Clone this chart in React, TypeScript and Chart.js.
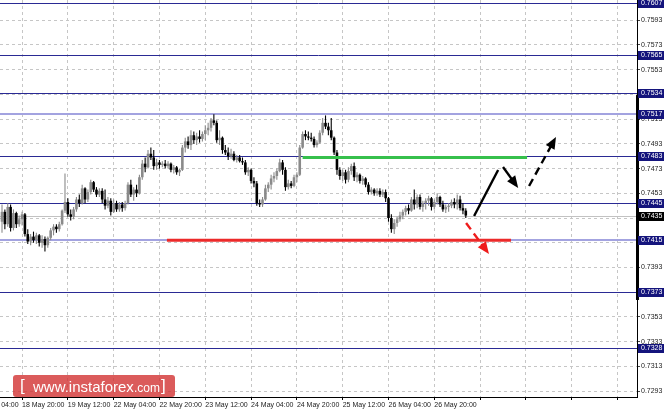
import React, { useEffect, useRef } from "react";
import { Chart, registerables } from "chart.js";

Chart.register(...registerables);

// ---- H1 candles (bar index 0 = first visible bar) ----
const opens = [
  0.7430, 0.7438, 0.7428, 0.7442, 0.7425, 0.7437, 0.7428, 0.7432, 0.7436, 0.7420,
  0.7414, 0.7418, 0.7415, 0.7419, 0.7413, 0.7416, 0.7411, 0.7417, 0.7423, 0.7426,
  0.7424, 0.7428, 0.7439, 0.7446, 0.7436, 0.7434, 0.7440, 0.7448, 0.7445, 0.7457,
  0.7448, 0.7454, 0.7462, 0.7456, 0.7452, 0.7455, 0.7448, 0.7443, 0.7447, 0.7438,
  0.7445, 0.7440, 0.7444, 0.7441, 0.7445, 0.7460, 0.7452, 0.7456, 0.7453, 0.7466,
  0.7477, 0.7474, 0.7485, 0.7482, 0.7475, 0.7478, 0.7476, 0.7477, 0.7475, 0.7477,
  0.7472, 0.7474, 0.7470, 0.7472, 0.7490, 0.7495, 0.7492, 0.7500, 0.7496, 0.7499,
  0.7497, 0.7501, 0.7504, 0.7506, 0.7512, 0.7510, 0.7496, 0.7498, 0.7488, 0.7486,
  0.7483, 0.7485, 0.7480, 0.7482, 0.7479, 0.7478, 0.7470, 0.7472, 0.7463, 0.7461,
  0.7445, 0.7444, 0.7448, 0.7457, 0.7460, 0.7465, 0.7467, 0.7471, 0.7478, 0.7472,
  0.7458, 0.7461, 0.7459, 0.7466, 0.7468, 0.7490, 0.7501, 0.7499, 0.7498, 0.7497,
  0.7492, 0.7494, 0.7502, 0.7510, 0.7507, 0.7504, 0.7498, 0.7486, 0.7472, 0.7467,
  0.7470, 0.7464, 0.7471, 0.7475, 0.7466, 0.7468, 0.7463, 0.7465, 0.7460, 0.7454,
  0.7456, 0.7453, 0.7455, 0.7452, 0.7454, 0.7449, 0.7433, 0.7424, 0.7429, 0.7432,
  0.7435, 0.7438, 0.7441, 0.7439, 0.7448, 0.7444, 0.7450, 0.7442, 0.7445, 0.7447,
  0.7449, 0.7442, 0.7446, 0.7450, 0.7444, 0.7440, 0.7442, 0.7443, 0.7446, 0.7444,
  0.7448, 0.7441, 0.7439,
];
const highs = [
  0.7444, 0.7440, 0.7445, 0.7444, 0.7440, 0.7438, 0.7435, 0.7438, 0.7437, 0.7424,
  0.7420, 0.7422, 0.7421, 0.7420, 0.7419, 0.7418, 0.7418, 0.7425, 0.7428, 0.7428,
  0.7430, 0.7440, 0.7469, 0.7449, 0.7440, 0.7442, 0.7450, 0.7452, 0.7460, 0.7458,
  0.7456, 0.7464, 0.7463, 0.7458, 0.7457, 0.7457, 0.7456, 0.7450, 0.7449, 0.7448,
  0.7447, 0.7446, 0.7446, 0.7447, 0.7462, 0.7464, 0.7458, 0.7460, 0.7468, 0.7480,
  0.7482, 0.7488, 0.7490, 0.7488, 0.7481, 0.7480, 0.7479, 0.7480, 0.7479, 0.7478,
  0.7476, 0.7475, 0.7473, 0.7492, 0.7498, 0.7499, 0.7504, 0.7503, 0.7502, 0.7504,
  0.7503, 0.7508, 0.7510, 0.7514, 0.7517, 0.7512, 0.7504, 0.7499, 0.7492, 0.7490,
  0.7489, 0.7487, 0.7484, 0.7484, 0.7482, 0.7480, 0.7474, 0.7473, 0.7466, 0.7463,
  0.7448, 0.7450, 0.7460, 0.7462, 0.7468, 0.7470, 0.7473, 0.7481, 0.7480, 0.7474,
  0.7464, 0.7463, 0.7468, 0.7470, 0.7492, 0.7503, 0.7504, 0.7503, 0.7502, 0.7499,
  0.7496, 0.7504, 0.7514, 0.7516, 0.7510, 0.7514, 0.7499, 0.7488, 0.7474, 0.7472,
  0.7472, 0.7474, 0.7477, 0.7478, 0.7470, 0.7469, 0.7467, 0.7466, 0.7462, 0.7458,
  0.7457, 0.7457, 0.7457, 0.7456, 0.7456, 0.7450, 0.7436, 0.7432, 0.7434, 0.7438,
  0.7440, 0.7443, 0.7444, 0.7450, 0.7456, 0.7452, 0.7452, 0.7447, 0.7449, 0.7451,
  0.7450, 0.7448, 0.7453, 0.7451, 0.7447, 0.7444, 0.7445, 0.7448, 0.7449, 0.7452,
  0.7451, 0.7445, 0.7441,
];
const lows = [
  0.7421, 0.7424, 0.7426, 0.7422, 0.7423, 0.7425, 0.7426, 0.7427, 0.7418, 0.7412,
  0.7411, 0.7413, 0.7412, 0.7410, 0.7409, 0.7406, 0.7409, 0.7415, 0.7419, 0.7421,
  0.7422, 0.7427, 0.7437, 0.7434, 0.7431, 0.7432, 0.7438, 0.7442, 0.7444, 0.7445,
  0.7446, 0.7452, 0.7454, 0.7450, 0.7450, 0.7445, 0.7440, 0.7441, 0.7435, 0.7437,
  0.7438, 0.7438, 0.7438, 0.7439, 0.7444, 0.7450, 0.7447, 0.7450, 0.7452, 0.7464,
  0.7470, 0.7473, 0.7480, 0.7472, 0.7472, 0.7473, 0.7474, 0.7473, 0.7473, 0.7470,
  0.7469, 0.7468, 0.7467, 0.7471, 0.7486, 0.7489, 0.7488, 0.7493, 0.7492, 0.7494,
  0.7495, 0.7496, 0.7500, 0.7503, 0.7508, 0.7494, 0.7492, 0.7485, 0.7484, 0.7480,
  0.7481, 0.7479, 0.7478, 0.7478, 0.7476, 0.7468, 0.7467, 0.7461, 0.7458, 0.7443,
  0.7442, 0.7442, 0.7447, 0.7454, 0.7456, 0.7462, 0.7464, 0.7470, 0.7468, 0.7455,
  0.7456, 0.7457, 0.7458, 0.7462, 0.7467, 0.7489, 0.7496, 0.7496, 0.7495, 0.7490,
  0.7490, 0.7493, 0.7500, 0.7505, 0.7500, 0.7496, 0.7484, 0.7468, 0.7464, 0.7463,
  0.7461, 0.7462, 0.7468, 0.7463, 0.7462, 0.7461, 0.7460, 0.7458, 0.7452, 0.7452,
  0.7451, 0.7451, 0.7450, 0.7450, 0.7446, 0.7430, 0.7421, 0.7420, 0.7426, 0.7430,
  0.7432, 0.7435, 0.7436, 0.7438, 0.7440, 0.7441, 0.7440, 0.7438, 0.7440, 0.7443,
  0.7439, 0.7440, 0.7444, 0.7442, 0.7438, 0.7437, 0.7438, 0.7441, 0.7441, 0.7440,
  0.7439, 0.7436, 0.7433,
];
const closes = [
  0.7438, 0.7428, 0.7442, 0.7425, 0.7437, 0.7428, 0.7432, 0.7436, 0.7420, 0.7414,
  0.7418, 0.7415, 0.7419, 0.7413, 0.7416, 0.7411, 0.7417, 0.7423, 0.7426, 0.7424,
  0.7428, 0.7439, 0.7446, 0.7436, 0.7434, 0.7440, 0.7448, 0.7445, 0.7457, 0.7448,
  0.7454, 0.7462, 0.7456, 0.7452, 0.7455, 0.7448, 0.7443, 0.7447, 0.7438, 0.7445,
  0.7440, 0.7444, 0.7441, 0.7445, 0.7460, 0.7452, 0.7456, 0.7453, 0.7466, 0.7477,
  0.7474, 0.7485, 0.7482, 0.7475, 0.7478, 0.7476, 0.7477, 0.7475, 0.7477, 0.7472,
  0.7474, 0.7470, 0.7472, 0.7490, 0.7495, 0.7492, 0.7500, 0.7496, 0.7499, 0.7497,
  0.7501, 0.7504, 0.7506, 0.7512, 0.7510, 0.7496, 0.7498, 0.7488, 0.7486, 0.7483,
  0.7485, 0.7480, 0.7482, 0.7479, 0.7478, 0.7470, 0.7472, 0.7463, 0.7461, 0.7445,
  0.7444, 0.7448, 0.7457, 0.7460, 0.7465, 0.7467, 0.7471, 0.7478, 0.7472, 0.7458,
  0.7461, 0.7459, 0.7466, 0.7468, 0.7490, 0.7501, 0.7499, 0.7498, 0.7497, 0.7492,
  0.7494, 0.7502, 0.7510, 0.7507, 0.7504, 0.7498, 0.7486, 0.7472, 0.7467, 0.7470,
  0.7464, 0.7471, 0.7475, 0.7466, 0.7468, 0.7463, 0.7465, 0.7460, 0.7454, 0.7456,
  0.7453, 0.7455, 0.7452, 0.7454, 0.7449, 0.7433, 0.7424, 0.7429, 0.7432, 0.7435,
  0.7438, 0.7441, 0.7439, 0.7448, 0.7444, 0.7450, 0.7442, 0.7445, 0.7447, 0.7449,
  0.7442, 0.7446, 0.7450, 0.7444, 0.7440, 0.7442, 0.7443, 0.7446, 0.7444, 0.7448,
  0.7441, 0.7439, 0.7435,
];

// ---- time axis labels (bar index where each label sits) ----
const timeLabelBars = [-9, 7, 23, 39, 55, 71, 87, 103, 119, 135, 151, 167, 183, 199, 215];
const timeLabels = [
  "18 May 04:00", "18 May 20:00", "19 May 12:00", "22 May 04:00", "22 May 20:00",
  "23 May 12:00", "24 May 04:00", "24 May 20:00", "25 May 12:00", "26 May 04:00",
  "26 May 20:00", "", "", "", "",
];

// ---- price axis ----
const priceTicks = [
  0.7293, 0.7313, 0.7333, 0.7353, 0.7373, 0.7393, 0.7413, 0.7433,
  0.7453, 0.7473, 0.7493, 0.7513, 0.7533, 0.7553, 0.7573, 0.7593,
];
const levelPrices = [0.7607, 0.7565, 0.7534, 0.7517, 0.7483, 0.7445, 0.7415, 0.7373, 0.7328];
const levelIsMajor = [false, false, false, true, false, false, true, false, false];
const lastPrice = 0.7435;
const axisRangeMarker = [0.75325, 0.73667];

// ---- drawn analysis objects (bar index, price) ----
const resistanceSegment = [105, 183.4, 0.7482];
const supportSegment = [57.6, 177.8, 0.7415];
const upMove = [[164.9, 0.74346], [173.3, 0.74719]];
const pullback = [[175.0, 0.74743], [180.3, 0.74573]];
const upContinuation = [[184.1, 0.74589], [193.5, 0.74986]];
const breakdown = [[162.1, 0.7429], [170.1, 0.74039]];

const FONT = "'Liberation Sans', Arial, sans-serif";
const BULL = "#8a8a8a";
const BEAR = "#000000";

function drawArrow(ctx: CanvasRenderingContext2D, x1: number, y1: number, x2: number, y2: number, color: string, dashed: boolean, head: boolean) {
  const ang = Math.atan2(y2 - y1, x2 - x1);
  const headLen = 12;
  const headHalf = 5;
  const ex = head ? x2 - Math.cos(ang) * (headLen - 2) : x2;
  const ey = head ? y2 - Math.sin(ang) * (headLen - 2) : y2;
  ctx.save();
  ctx.strokeStyle = color;
  ctx.fillStyle = color;
  ctx.lineWidth = 2.4;
  ctx.lineCap = "butt";
  ctx.setLineDash(dashed ? [8, 5] : []);
  ctx.beginPath();
  ctx.moveTo(x1, y1);
  ctx.lineTo(ex, ey);
  ctx.stroke();
  ctx.setLineDash([]);
  if (head) {
    const bx = x2 - Math.cos(ang) * headLen;
    const by = y2 - Math.sin(ang) * headLen;
    ctx.beginPath();
    ctx.moveTo(x2, y2);
    ctx.lineTo(bx + Math.sin(ang) * headHalf, by - Math.cos(ang) * headHalf);
    ctx.lineTo(bx - Math.sin(ang) * headHalf, by + Math.cos(ang) * headHalf);
    ctx.closePath();
    ctx.fill();
  }
  ctx.restore();
}

const overlayPlugin = {
  id: "overlay",
  beforeDatasetsDraw(chart: any) {
    const { ctx, chartArea: a, scales } = chart;
    const y = scales.y;
    ctx.save();
    ctx.beginPath();
    ctx.rect(a.left, a.top, a.right - a.left, a.bottom - a.top);
    ctx.clip();
    const yb = Math.round(y.getPixelForValue(lastPrice)) + 0.5;
    ctx.strokeStyle = "#c2c2c2";
    ctx.lineWidth = 1;
    ctx.beginPath();
    ctx.moveTo(a.left, yb);
    ctx.lineTo(a.right, yb);
    ctx.stroke();
    levelPrices.forEach((p, i) => {
      const major = levelIsMajor[i];
      const py = major ? Math.round(y.getPixelForValue(p)) : Math.round(y.getPixelForValue(p)) + 0.5;
      ctx.strokeStyle = major ? "#a3a3e0" : "#2a2a94";
      ctx.lineWidth = major ? 2 : 1;
      ctx.beginPath();
      ctx.moveTo(a.left, py);
      ctx.lineTo(a.right, py);
      ctx.stroke();
    });
    ctx.restore();
  },
  afterDatasetsDraw(chart: any) {
    const { ctx, chartArea: a, scales } = chart;
    const x = scales.x;
    const y = scales.y;
    ctx.save();
    ctx.beginPath();
    ctx.rect(a.left, a.top, a.right - a.left, a.bottom - a.top);
    ctx.clip();
    ctx.strokeStyle = "#36c04c";
    ctx.lineWidth = 3;
    let py = y.getPixelForValue(resistanceSegment[2]);
    ctx.beginPath();
    ctx.moveTo(x.getPixelForValue(resistanceSegment[0]), py);
    ctx.lineTo(x.getPixelForValue(resistanceSegment[1]), py);
    ctx.stroke();
    ctx.strokeStyle = "#ec2a2a";
    py = y.getPixelForValue(supportSegment[2]);
    ctx.beginPath();
    ctx.moveTo(x.getPixelForValue(supportSegment[0]), py);
    ctx.lineTo(x.getPixelForValue(supportSegment[1]), py);
    ctx.stroke();
    const pt = (p: number[]) => [x.getPixelForValue(p[0]), y.getPixelForValue(p[1])];
    let [ax, ay] = pt(upMove[0]);
    let [bx, by] = pt(upMove[1]);
    drawArrow(ctx, ax, ay, bx, by, "#000", false, false);
    [ax, ay] = pt(pullback[0]);
    [bx, by] = pt(pullback[1]);
    drawArrow(ctx, ax, ay, bx, by, "#000", false, true);
    [ax, ay] = pt(upContinuation[0]);
    [bx, by] = pt(upContinuation[1]);
    drawArrow(ctx, ax, ay, bx, by, "#000", true, true);
    [ax, ay] = pt(breakdown[0]);
    [bx, by] = pt(breakdown[1]);
    drawArrow(ctx, ax, ay, bx, by, "#ee1c1c", true, true);
    ctx.restore();
  },
  afterDraw(chart: any) {
    const { ctx, chartArea: a, scales, width } = chart;
    const y = scales.y;
    ctx.save();
    ctx.fillStyle = "#000";
    const t = y.getPixelForValue(axisRangeMarker[0]);
    const b = y.getPixelForValue(axisRangeMarker[1]);
    ctx.fillRect(a.right - 1, t, 3, b - t);
    ctx.font = `7px ${FONT}`;
    ctx.textBaseline = "middle";
    ctx.textAlign = "left";
    const tag = (p: number, bg: string) => {
      const yc = Math.round(y.getPixelForValue(p));
      ctx.fillStyle = bg;
      ctx.fillRect(a.right + 1, yc - 4, width - a.right - 1, 9);
      ctx.fillStyle = "#fff";
      ctx.fillText(p.toFixed(4), a.right + 4, yc + 0.5);
    };
    levelPrices.forEach((p) => tag(p, "#14147c"));
    tag(lastPrice, "#000");
    ctx.restore();
  },
};

export default function App() {
  const ref = useRef<HTMLCanvasElement | null>(null);
  useEffect(() => {
    if (!ref.current) return;
    const bull = opens.map((o, i) => closes[i] >= o);
    const chart = new Chart(ref.current, {
      type: "bar",
      data: {
        datasets: [
          {
            label: "body",
            data: opens.map((o, i) => ({ x: i, y: [o, closes[i]] })) as any,
            backgroundColor: bull.map((u) => (u ? BULL : BEAR)),
            barThickness: 2.6,
            grouped: false,
            minBarLength: 1,
            inflateAmount: 0,
            order: 0,
          } as any,
          {
            label: "wick",
            data: lows.map((l, i) => ({ x: i, y: [l, highs[i]] })) as any,
            backgroundColor: bull.map((u) => (u ? BULL : BEAR)),
            barThickness: 1.1,
            grouped: false,
            inflateAmount: 0,
            order: 1,
          } as any,
        ],
      },
      options: {
        responsive: false,
        maintainAspectRatio: false,
        devicePixelRatio: 1,
        animation: false,
        layout: { padding: 0 },
        plugins: { legend: { display: false }, tooltip: { enabled: false }, title: { display: false } },
        scales: {
          x: {
            type: "linear",
            min: -0.7,
            max: 221.8,
            offset: false,
            grid: {
              offset: false,
              color: "#c6c6c6",
              lineWidth: 1,
              drawTicks: true,
              tickLength: 3,
              tickColor: "#000",
              tickBorderDash: [],
            },
            border: { display: true, color: "#000", width: 1, dash: [3, 3] },
            ticks: {
              align: "start",
              autoSkip: false,
              maxRotation: 0,
              minRotation: 0,
              padding: 1,
              color: "#222",
              font: { size: 7, family: FONT },
              callback: (v: any) => {
                const k = timeLabelBars.indexOf(Number(v));
                return k >= 0 ? timeLabels[k] : "";
              },
            },
            afterBuildTicks: (s: any) => {
              s.ticks = timeLabelBars.map((v) => ({ value: v }));
            },
            afterFit: (s: any) => {
              s.height = 15;
              s.paddingLeft = 0;
              s.paddingRight = 0;
            },
          } as any,
          y: {
            type: "linear",
            position: "right",
            min: 0.72882,
            max: 0.76094,
            beginAtZero: false,
            grid: {
              color: "#c6c6c6",
              lineWidth: 1,
              drawTicks: true,
              tickLength: 3,
              tickColor: "#444",
              tickBorderDash: [],
            },
            border: { display: true, color: "#000", width: 1, dash: [3, 3] },
            ticks: {
              padding: 1,
              color: "#222",
              font: { size: 7, family: FONT },
              callback: (v: any) => Number(v).toFixed(4),
            },
            afterBuildTicks: (s: any) => {
              s.ticks = priceTicks.map((v) => ({ value: v }));
            },
            afterFit: (s: any) => {
              s.width = 27;
              s.paddingTop = 0;
              s.paddingBottom = 0;
            },
          } as any,
        },
      } as any,
      plugins: [overlayPlugin as any],
    });
    return () => chart.destroy();
  }, []);

  return (
    <div style={{ position: "fixed", left: 0, top: 0, width: 664, height: 412, background: "#fff", overflow: "hidden" }}>
      <canvas ref={ref} width={664} height={412} style={{ display: "block", width: 664, height: 412 }} />
      <div
        style={{
          position: "absolute",
          left: 13,
          top: 375,
          width: 162,
          height: 22,
          background: "rgba(210,50,50,0.8)",
          borderRadius: 3,
          color: "#fff",
          fontFamily: FONT,
          whiteSpace: "nowrap",
        }}
      >
        <span style={{ position: "absolute", left: 7, top: 0, fontSize: 17, lineHeight: "22px" }}>[</span>
        <span style={{ position: "absolute", left: 20, top: 1, fontSize: 15, lineHeight: "22px" }}>
          www.instaforex<span style={{ fontSize: 12 }}>.com</span>
        </span>
        <span style={{ position: "absolute", left: 148, top: 0, fontSize: 17, lineHeight: "22px" }}>]</span>
      </div>
    </div>
  );
}
